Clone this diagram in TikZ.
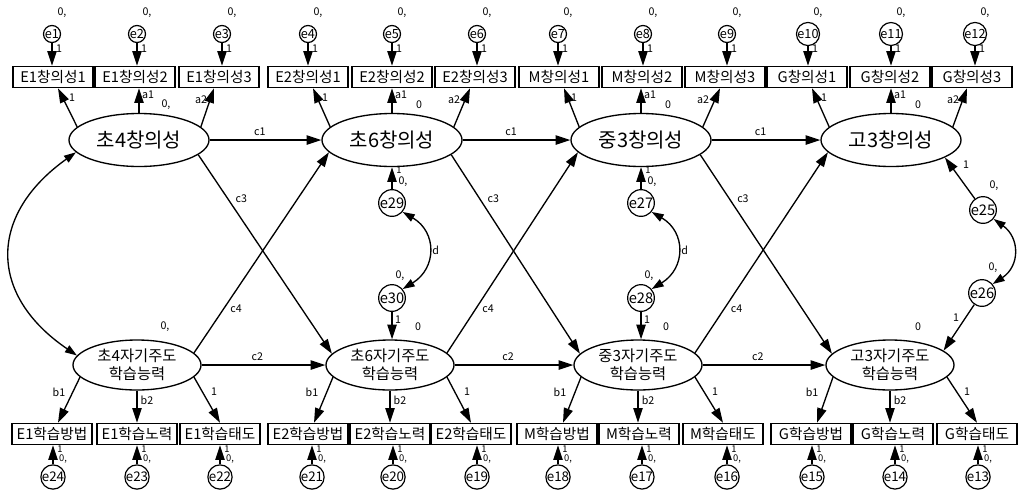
\documentclass[tikz,border=0pt]{standalone}
\usepackage{fontspec}
\setmainfont{Noto Sans CJK KR}
\usetikzlibrary{arrows.meta,calc,shapes.geometric}
\begin{document}
\begin{tikzpicture}[x=0.75pt,y=-0.75pt,
  box/.style={draw,line width=1.1pt,minimum width=60pt,minimum height=15.75pt,inner sep=0.5pt,font=\fontsize{11}{12}\selectfont},
  lat/.style={draw,ellipse,line width=1pt,minimum width=105pt,minimum height=39.75pt,inner sep=0pt,font=\fontsize{15}{16}\selectfont},
  lattwo/.style={draw,ellipse,line width=1pt,minimum width=96pt,minimum height=37.5pt,inner sep=0pt,align=center,font=\fontsize{11.5}{13.5}\selectfont},
  errs/.style={draw,circle,line width=0.9pt,minimum size=12.75pt,inner sep=0pt,font=\fontsize{9.5}{10}\selectfont},
  errm/.style={draw,circle,line width=0.9pt,minimum size=20pt,inner sep=0pt,font=\fontsize{11}{12}\selectfont},
  errb/.style={draw,circle,line width=0.9pt,minimum size=14.5pt,inner sep=0pt,font=\fontsize{10}{10}\selectfont},
  lbl/.style={inner sep=0.5pt,font=\fontsize{8}{9}\selectfont},
  tiny/.style={inner sep=0.3pt,font=\fontsize{7}{8}\selectfont},
  arr/.style={line width=1pt,-{Triangle[length=11pt,width=7pt]}},
  darr/.style={line width=1pt,{Triangle[length=9pt,width=6pt]}-{Triangle[length=9pt,width=6pt]}},
]
\useasboundingbox (0,0) rectangle (1018,490);

% latent variables
\node[lat] (T1) at (139,140) {초4창의성};
\node[lat] (T2) at (392,140) {초6창의성};
\node[lat] (T3) at (641,140) {중3창의성};
\node[lat] (T4) at (891,140) {고3창의성};
\node[lattwo] (B1) at (137,365) {초4자기주도\\학습능력};
\node[lattwo] (B2) at (390,365) {초6자기주도\\학습능력};
\node[lattwo] (B3) at (638,365) {중3자기주도\\학습능력};
\node[lattwo] (B4) at (890,365) {고3자기주도\\학습능력};

% top indicators
\foreach \n/\x/\t in {tb1/53/E1창의성1,tb2/135/E1창의성2,tb3/219/E1창의성3,
  tb4/308/E2창의성1,tb5/392/E2창의성2,tb6/475/E2창의성3,
  tb7/559/M창의성1,tb8/642/M창의성2,tb9/725/M창의성3,
  tb10/807/G창의성1,tb11/890/G창의성2,tb12/972/G창의성3}
  \node[box] (\n) at (\x,77) {\t};
% bottom indicators
\foreach \n/\x/\t in {bb1/52/E1학습방법,bb2/137/E1학습노력,bb3/220/E1학습태도,
  bb4/308/E2학습방법,bb5/390/E2학습노력,bb6/471/E2학습태도,
  bb7/557/M학습방법,bb8/639/M학습노력,bb9/723/M학습태도,
  bb10/811/G학습방법,bb11/893/G학습노력,bb12/977/G학습태도}
  \node[box] (\n) at (\x,434) {\t};

% top errors
\foreach \n/\x/\b in {e1/52/tb1,e2/137/tb2,e3/222/tb3,e4/308/tb4,e5/392/tb5,e6/477/tb6,
  e7/558/tb7,e8/643/tb8,e9/727/tb9,e10/808/tb10,e11/891/tb11,e12/975/tb12}{
  \node[errs] (\n) at (\x,34) {\n};
  \draw[arr] (\n) -- (\n |- \b.north);
  \node[lbl] at (\x+10,13) {0,};
  \node[lbl] at (\x+7,49) {1};
}
% bottom errors
\foreach \n/\x/\b in {e24/53/bb1,e23/137/bb2,e22/220/bb3,e21/312/bb4,e20/393/bb5,e19/477/bb6,
  e18/558/bb7,e17/642/bb8,e16/727/bb9,e15/812/bb10,e14/895/bb11,e13/978/bb12}{
  \node[errb] (\n) at (\x,477) {\n};
  \draw[arr] (\n) -- (\n |- \b.south);
  \node[tiny] at (\x+7,449) {1};
  \node[tiny] at (\x+10,459) {0,};
}

% loadings top
\foreach \T/\a/\b/\c/\m in {T1/tb1/tb2/tb3/{0,},T2/tb4/tb5/tb6/0,T3/tb7/tb8/tb9/0,T4/tb10/tb11/tb12/0}{
  \draw[arr] (\T.168) -- ([xshift=3.75pt]\a.south);
  \draw[arr] (\T.north) -- (\T.north |- \b.south);
  \draw[arr] (\T.12) -- ([xshift=-3.75pt]\c.south);
  \node[lbl] at ($(\T)+(-67,-42)$) {1};
  \node[lbl] at ($(\T)+(9,-45)$) {a1};
  \node[lbl] at ($(\T)+(62,-40)$) {a2};
  \node[lbl] at ($(\T)+(27,-35)$) {\m};
}
% loadings bottom
\foreach \B/\a/\b/\c/\m in {B1/bb1/bb2/bb3/{0,},B2/bb4/bb5/bb6/0,B3/bb7/bb8/bb9/0,B4/bb10/bb11/bb12/0}{
  \draw[arr] (\B.-168) -- ([xshift=4.5pt]\a.north);
  \draw[arr] (\B.south) -- (\B.south |- \b.north);
  \draw[arr] (\B.-12) -- (\c.north);
  \node[lbl] at ($(\B)+(-78,27)$) {b1};
  \node[lbl] at ($(\B)+(10,35)$) {b2};
  \node[lbl] at ($(\B)+(77,27)$) {1};
  \node[lbl] at ($(\B)+(28,-38)$) {\m};
}

% structural paths
\foreach \p/\q in {1/2,2/3,3/4}{
  \draw[arr] (T\p) -- node[lbl,above=2pt,pos=0.45]{c1} (T\q);
  \draw[arr] (B\p) -- node[lbl,above=2pt,pos=0.45]{c2} (B\q);
  \draw[arr] (T\p.-14) -- node[lbl,pos=0.22,right=5pt]{c3} (B\q.169);
  \draw[arr] (B\p.12) -- node[lbl,pos=0.22,right=4pt]{c4} (T\q.-169);
}

% covariance of first latents
\draw[darr] (T1.191) .. controls (-12,215) and (-12,295) .. (B1.171);

% disturbances
\node[errm] (e29) at (392,203) {e29};
\node[errm] (e30) at (392,298) {e30};
\node[errm] (e27) at (641,203) {e27};
\node[errm] (e28) at (641,298) {e28};
\node[errm] (e25) at (983,210) {e25};
\node[errm] (e26) at (982,293) {e26};

\draw[arr] (e29) -- (e29 |- T2.south);
\draw[arr] (e30) -- (e30 |- B2.north);
\draw[arr] (e27) -- (e27 |- T3.south);
\draw[arr] (e28) -- (e28 |- B3.north);
\draw[arr] (e25) -- (T4.-18);
\draw[arr] (e26) -- (B4.15);

\draw[darr] (e29.-40) .. controls (437,232) and (437,268) .. node[lbl,right=2pt]{d} (e30.40);
\draw[darr] (e27.-40) .. controls (686,232) and (686,268) .. node[lbl,right=2pt]{d} (e28.40);
\draw[darr] (e25.-40) .. controls (1020,238) and (1020,266) .. (e26.40);

\node[tiny] at (399,170) {1};
\node[lbl] at (403,182) {0,};
\node[tiny] at (648,170) {1};
\node[lbl] at (652,182) {0,};
\node[lbl] at (400,276) {0,};
\node[lbl] at (398,320) {1};
\node[lbl] at (649,276) {0,};
\node[lbl] at (647,320) {1};
\node[lbl] at (994,186) {0,};
\node[lbl] at (966,165) {1};
\node[lbl] at (993,268) {0,};
\node[lbl] at (956,318) {1};
\end{tikzpicture}
\end{document}
